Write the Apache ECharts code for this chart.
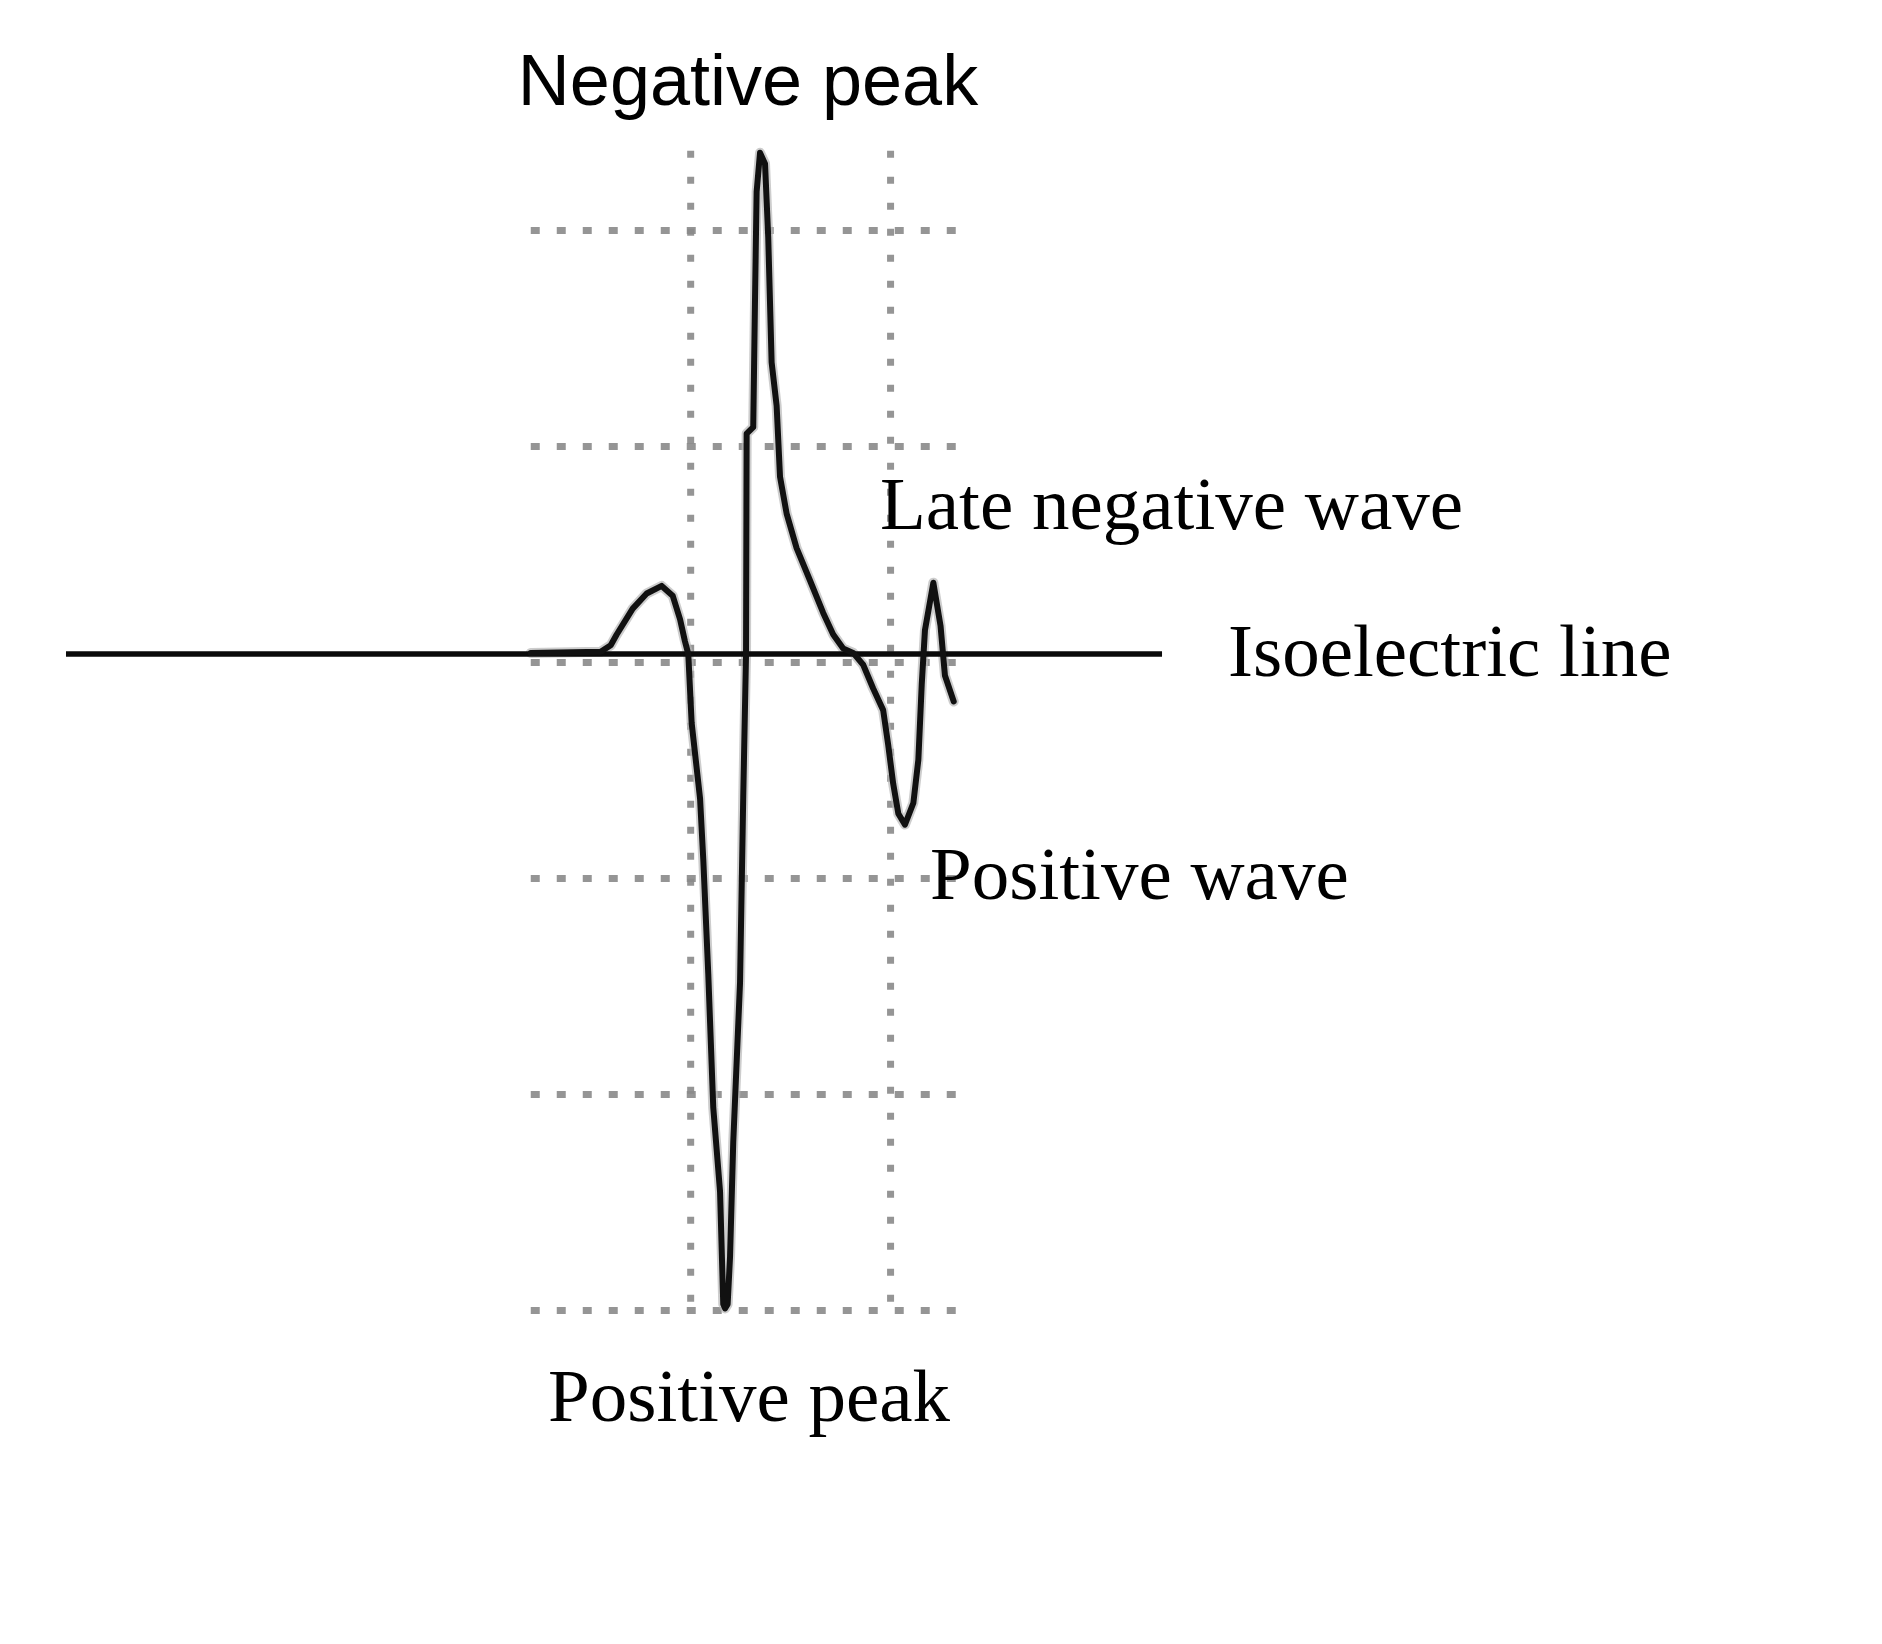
<!DOCTYPE html>
<html>
<head>
<meta charset="utf-8">
<script src="https://cdn.jsdelivr.net/npm/echarts@6/dist/echarts.min.js"></script>
<style>
  html, body { margin: 0; padding: 0; background: #ffffff; }
  #chart { width: 1882px; height: 1644px; }
</style>
</head>
<body>
<div id="chart"></div>
<script>
// Units: one grid division on each axis.
// Waveform trace [time (div), amplitude (div)]
var traceData = [
  [-0.80, 0.045], [-0.45, 0.05], [-0.40, 0.08], [-0.37, 0.13], [-0.29, 0.25],
  [-0.22, 0.32], [-0.145, 0.355], [-0.09, 0.31], [-0.053, 0.20], [-0.029, 0.10],
  [-0.012, 0.04], [0.005, -0.28], [0.047, -0.63], [0.063, -0.91], [0.088, -1.44],
  [0.113, -2.06], [0.147, -2.45], [0.163, -2.97], [0.172, -2.99], [0.185, -2.97],
  [0.197, -2.75], [0.213, -2.22], [0.247, -1.48], [0.263, -0.62], [0.277, 0.04],
  [0.280, 1.06], [0.313, 1.09], [0.322, 1.69], [0.330, 2.18], [0.347, 2.36],
  [0.372, 2.31], [0.388, 1.97], [0.405, 1.39], [0.430, 1.19], [0.447, 0.86],
  [0.480, 0.69], [0.530, 0.53], [0.597, 0.38], [0.663, 0.23], [0.713, 0.13],
  [0.763, 0.065], [0.813, 0.045], [0.863, -0.01], [0.913, -0.12], [0.963, -0.22],
  [0.988, -0.38], [1.013, -0.56], [1.039, -0.70], [1.072, -0.75], [1.114, -0.65],
  [1.139, -0.45], [1.156, -0.10], [1.172, 0.15], [1.214, 0.37], [1.25, 0.17],
  [1.272, -0.06], [1.316, -0.18]
];
// Isoelectric (baseline) level and its horizontal extent
var isoLevel = 0.04;
var isoExtent = [-3.125, 2.358];
// Dotted reference grid
var hGridY = [2, 1, 0, -1, -2, -3];
var hGridExtent = [-0.80, 1.35];
var vGridX = [0, 1];
var vGridExtent = [2.37, -3.03];
// Annotation labels
var labelNegPeak = 'Negative peak';
var labelLateNeg = 'Late negative wave';
var labelIso = 'Isoelectric line';
var labelPosWave = 'Positive wave';
var labelPosPeak = 'Positive peak';

var chart = echarts.init(document.getElementById('chart'), null, { renderer: 'svg' });

var series = [];
hGridY.forEach(function (y) {
  series.push({
    type: 'line', silent: true, symbol: 'none', z: 1,
    lineStyle: { color: '#8a8a8a', width: 7, type: [9, 17], opacity: 0.9 },
    data: [[hGridExtent[0], y], [hGridExtent[1], y]]
  });
});
vGridX.forEach(function (x) {
  series.push({
    type: 'line', silent: true, symbol: 'none', z: 1,
    lineStyle: { color: '#8a8a8a', width: 7, type: [7, 19], opacity: 0.9 },
    data: [[x, vGridExtent[0]], [x, vGridExtent[1]]]
  });
});
series.push({
  type: 'line', silent: true, symbol: 'none', z: 3,
  lineStyle: { color: '#0a0a0a', width: 5.5 },
  data: [[isoExtent[0], isoLevel], [isoExtent[1], isoLevel]]
});
// soft grey halo under the trace (scan blur of the original)
series.push({
  type: 'line', silent: true, symbol: 'none', z: 2,
  lineStyle: { color: '#b8b8b8', width: 10, join: 'round', cap: 'round', opacity: 0.7 },
  data: traceData
});
series.push({
  type: 'line', silent: true, symbol: 'none', z: 4,
  lineStyle: { color: '#111111', width: 6, join: 'round', cap: 'round' },
  data: traceData
});

function txt(text, x, y, font, align) {
  return {
    type: 'text', x: x, y: y, z: 10,
    style: {
      text: text, font: font, fill: '#000',
      textAlign: align, textVerticalAlign: 'middle',
      align: align, verticalAlign: 'middle'
    }
  };
}
var serif = '75px "Liberation Serif", "Times New Roman", serif';
var sans = '72px "Liberation Sans", Arial, sans-serif';

chart.setOption({
  animation: false,
  backgroundColor: '#ffffff',
  grid: { left: 51, top: 133.4, width: 1159.4, height: 1198.8, containLabel: false },
  xAxis: { type: 'value', min: -3.2, max: 2.6, show: false, splitLine: { show: false } },
  yAxis: { type: 'value', min: -3.1, max: 2.45, show: false, splitLine: { show: false } },
  series: series,
  graphic: [
    txt(labelNegPeak, 748, 80, sans, 'center'),
    txt(labelLateNeg, 880, 503, serif, 'left'),
    txt(labelIso, 1228, 650, serif, 'left'),
    txt(labelPosWave, 930, 873, serif, 'left'),
    txt(labelPosPeak, 548, 1395, serif, 'left')
  ]
});
</script>
</body>
</html>
